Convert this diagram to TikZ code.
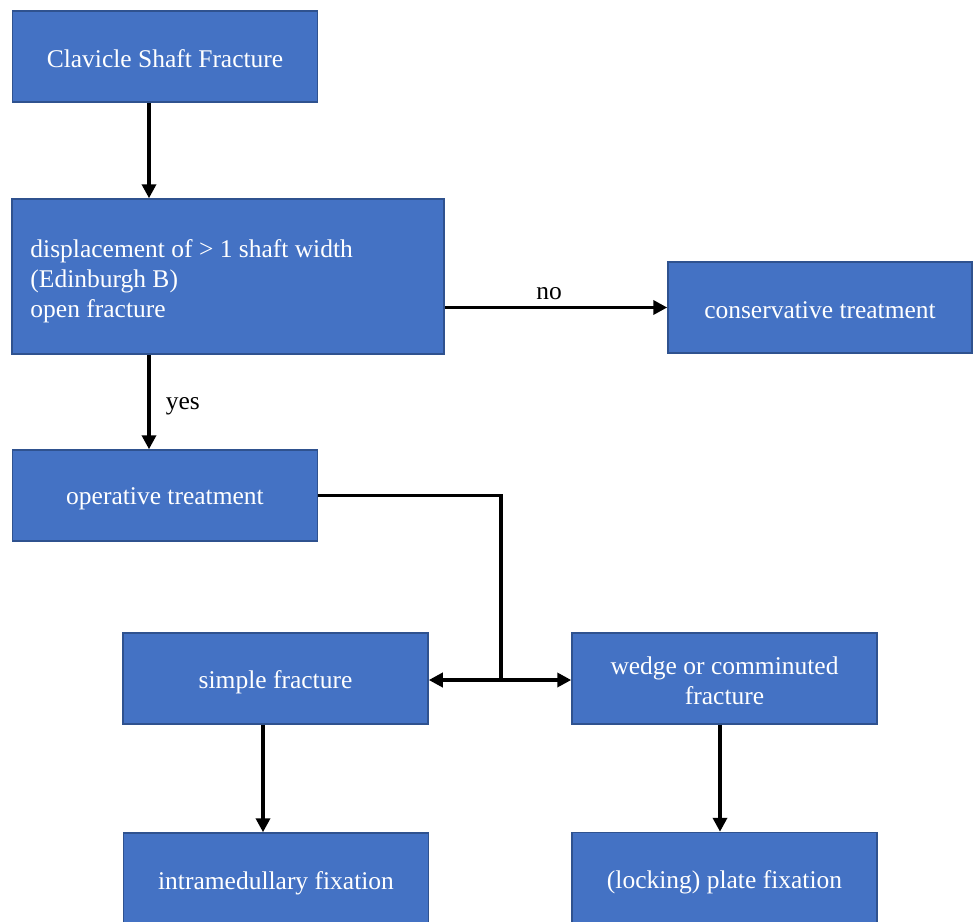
\documentclass[tikz,border=0pt]{standalone}
\usepackage{fontspec}
\setmainfont{Liberation Serif}
\usetikzlibrary{arrows.meta,calc}
\definecolor{boxfill}{HTML}{4472C4}
\definecolor{boxline}{HTML}{2F528F}
\begin{document}
\begin{tikzpicture}[x=1pt,y=-1pt,
  box/.style={draw=boxline,line width=1.5pt,fill=boxfill,inner sep=0pt,
    minimum width=305pt,minimum height=91pt},
  txt/.style={text=white,inner sep=0pt,font=\fontsize{25.5}{30}\selectfont,align=center},
  arr/.style={line width=3.7pt,-{Triangle[length=14pt,width=14pt]}},
  lbl/.style={font=\fontsize{25.5}{30}\selectfont,text=black,inner sep=0pt}]
\useasboundingbox (0,0) rectangle (973,921);
\node[box] (clav) at (165,56.5) {};
\node[txt] (clavt) at ([yshift=-2pt]clav.center) {Clavicle Shaft Fracture};
\node[box,minimum width=432pt,minimum height=155pt] (disp) at (228,276.5) {};
\node[txt,align=left,anchor=west] (dispt) at ([xshift=19pt,yshift=-5pt]disp.west)
  {displacement of > 1 shaft width\\(Edinburgh B)\\open fracture};
\node[box,minimum width=304pt] (cons) at (820,307.5) {};
\node[txt] (const) at ([yshift=-3pt]cons.center) {conservative treatment};
\node[box] (oper) at (165,495.5) {};
\node[txt] (opert) at ([yshift=-3.5pt]oper.center) {operative treatment};
\node[box] (simp) at (275.5,678.5) {};
\node[txt] (simpt) at ([yshift=-3.5pt]simp.center) {simple fracture};
\node[box] (wedge) at (724.5,678.5) {};
\node[txt] (wedget) at ([yshift=-2pt]wedge.center) {wedge or comminuted\\fracture};
\node[box] (intra) at (276,878.5) {};
\node[txt] (intrat) at ([yshift=-4.5pt]intra.center) {intramedullary fixation};
\node[box] (lock) at (724.5,878) {};
\node[txt] (lockt) at ([yshift=-4pt]lock.center) {(locking) plate fixation};
\draw[arr] ([xshift=-16pt]clav.south) -- ([xshift=-16pt]clav.south |- disp.north);
\draw[arr] (disp.east |- cons.west) -- node[lbl,above=6pt,xshift=-7pt] (no) {no} (cons.west);
\draw[arr] ([xshift=-79pt]disp.south) -- node[lbl,right=15pt,yshift=-4pt] (yes) {yes} ([xshift=-79pt]disp.south |- oper.north);
\coordinate (split) at (501,680);
\draw[line width=3.7pt] (oper.east) -| (split);
\draw[arr] (split) -- (simp.east |- split);
\draw[arr] (split) -- (wedge.west |- split);
\draw[arr] ([xshift=-12.5pt]simp.south) -- ([xshift=-12.5pt]simp.south |- intra.north);
\draw[arr] ([xshift=-4.5pt]wedge.south) -- ([xshift=-4.5pt]wedge.south |- lock.north);
\end{tikzpicture}
\end{document}
